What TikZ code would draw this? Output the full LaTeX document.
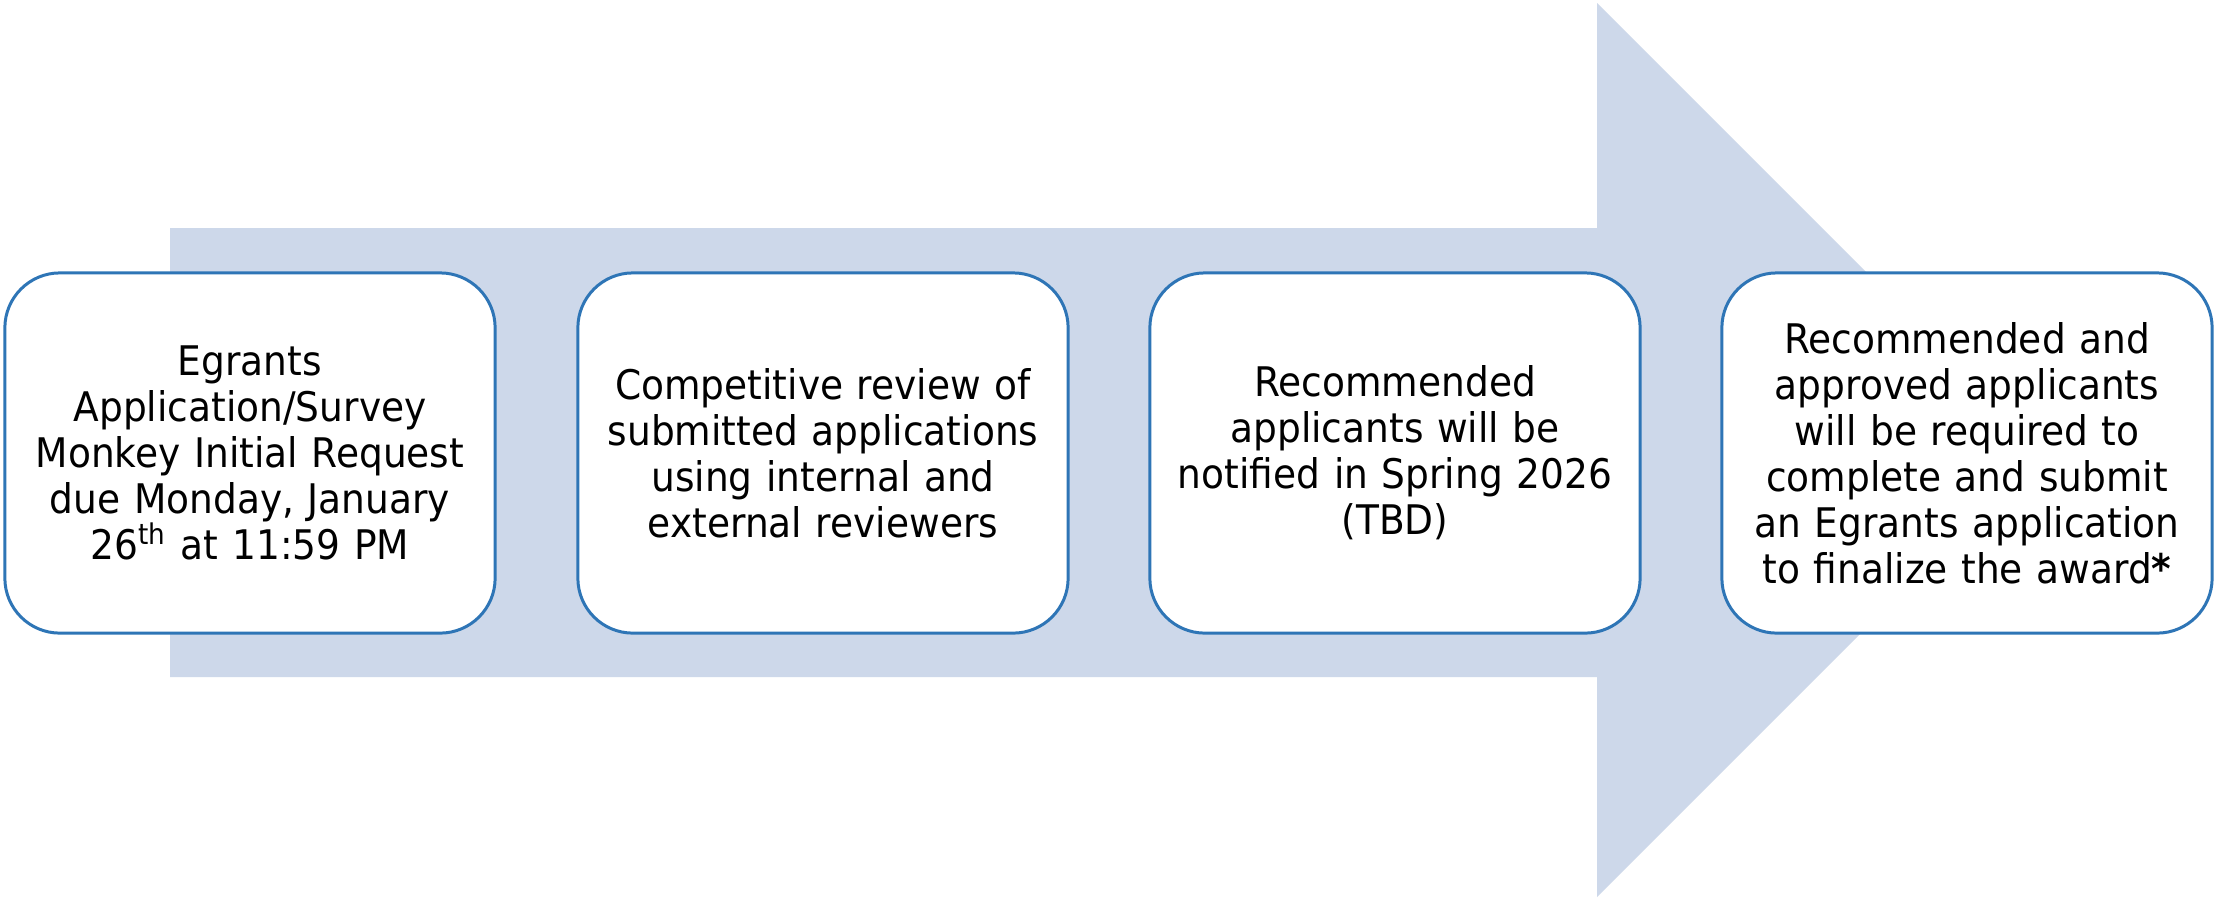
\documentclass[tikz,border=0pt]{standalone}
\usepackage{fontspec}
\setmainfont{DejaVu Sans}[FakeStretch=0.92]
\definecolor{bandfill}{RGB}{205,216,234}
\definecolor{boxline}{RGB}{46,117,182}
\begin{document}
\begin{tikzpicture}[x=0.01cm,y=-0.01cm,
  stepbox/.style={draw=boxline, line width=0.85pt, fill=white, rounded corners=0.55cm,
    minimum width=4.9cm, minimum height=3.6cm, text width=4.6cm, align=center,
    font=\fontsize{11.6pt}{13.1pt}\selectfont, inner sep=0pt}]
\useasboundingbox (0,0) rectangle (2214,899);
\fill[white] (0,0) rectangle (2214,899);
% big arrow
\fill[bandfill] (170,228) -- (1597,228) -- (1597,3) -- (2044,450) -- (1597,897) -- (1597,677) -- (170,677) -- cycle;
% steps
\node[stepbox] (s1) at (250,453) {Egrants\\Application/Survey\\Monkey Initial Request\\due Monday, January\\26\textsuperscript{th} at 11:59 PM};
\node[stepbox] (s2) at (823,453) {Competitive review of\\submitted applications\\using internal and\\external reviewers};
\node[stepbox] (s3) at (1395,453) {Recommended\\applicants will be\\notified in Spring 2026\\(TBD)};
\node[stepbox] (s4) at (1967,453) {Recommended and\\approved applicants\\will be required to\\complete and submit\\an Egrants application\\to finalize the award\textbf{*}};
\end{tikzpicture}
\end{document}
